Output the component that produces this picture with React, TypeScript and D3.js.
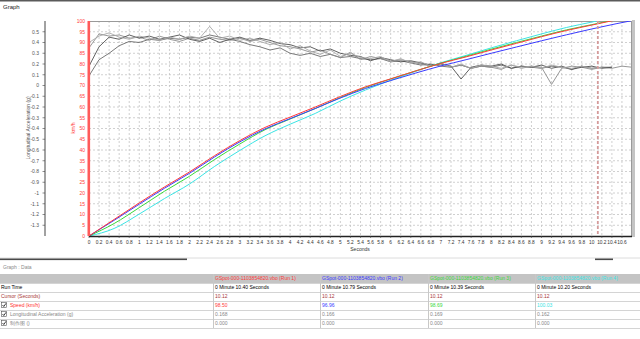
import React from 'react';
import * as d3 from 'd3';

const W = 640;
const H = 339;

// ---- data ----
const runNames = [
  'GSpot-000-1103854820.vbo (Run 1)',
  'GSpot-000-1103854820.vbo (Run 2)',
  'GSpot-000-1103854820.vbo (Run 3)',
  'GSpot-000-1103854820.vbo (Run 4)',
];
const runColors = ['#ff3a3a', '#3a3aff', '#3ad83a', '#3ae4e4'];
const accelColors = ['#6a6a6a', '#8c8c8c', '#505050', '#a8a8a8'];

const speedTimes = [0, 0.5, 1, 1.5, 2, 2.5, 3, 3.5, 4, 4.5, 5, 5.5, 6, 6.5, 7, 7.5, 8, 8.5, 9, 9.5, 10, 10.5, 11];
const speedRun1 = [0, 7.7, 15.4, 22.8, 29.8, 37.4, 44.4, 50.5, 55.3, 60.0, 64.9, 69.4, 73.1, 76.8, 80.3, 83.3, 86.5, 89.6, 92.7, 95.6, 98.1, 100.6, 103];
const speedRun2 = [0, 7.3, 14.8, 22.2, 29.2, 36.8, 43.8, 49.8, 54.6, 59.3, 64.2, 68.6, 72.3, 75.8, 79.1, 82.0, 85.0, 87.9, 90.8, 93.6, 96.3, 98.8, 101.1];
const speedRun3 = [0, 5.8, 13.2, 20.8, 27.8, 35.6, 42.8, 49.4, 54.4, 59.3, 64.4, 69.1, 73.0, 76.8, 80.4, 83.6, 86.9, 90.0, 93.0, 95.9, 98.3, 100.8, 103];
const speedRun4 = [0, 3.5, 10.2, 17.4, 24.2, 32.4, 39.8, 46.6, 52.0, 57.0, 62.8, 67.9, 72.4, 76.6, 80.6, 84.0, 87.5, 90.8, 94.0, 97.0, 99.5, 102, 104];

const accelStep = 0.2;
const accelRun1 = [0.09, 0.24, 0.30, 0.37, 0.41, 0.40, 0.43, 0.42, 0.44, 0.43, 0.45, 0.44, 0.47, 0.45, 0.43, 0.41, 0.38, 0.36, 0.33, 0.35, 0.30, 0.28, 0.30, 0.27, 0.29, 0.26, 0.27, 0.25, 0.24, 0.25, 0.22, 0.23, 0.21, 0.19, 0.20, 0.18, 0.17, 0.19, 0.16, 0.18, 0.17, 0.19, 0.16, 0.18, 0.17, 0.16, 0.18, 0.17, 0.15, 0.18, 0.16, 0.17, 0.17];
const accelRun2 = [0.35, 0.48, 0.46, 0.47, 0.44, 0.45, 0.42, 0.46, 0.43, 0.41, 0.44, 0.42, 0.45, 0.43, 0.42, 0.44, 0.41, 0.43, 0.40, 0.37, 0.36, 0.34, 0.31, 0.33, 0.29, 0.26, 0.31, 0.24, 0.27, 0.25, 0.23, 0.24, 0.22, 0.20, 0.18, 0.21, 0.17, 0.19, 0.16, 0.18, 0.17, 0.15, 0.19, 0.16, 0.18, 0.17, 0.01, 0.16, 0.18, 0.17, 0.15, 0.17, 0.16, 0.18, 0.17];
const accelRun3 = [0.18, 0.36, 0.45, 0.43, 0.47, 0.44, 0.46, 0.43, 0.45, 0.47, 0.43, 0.41, 0.44, 0.40, 0.43, 0.45, 0.42, 0.44, 0.42, 0.39, 0.38, 0.35, 0.36, 0.32, 0.34, 0.30, 0.28, 0.27, 0.23, 0.26, 0.24, 0.22, 0.23, 0.21, 0.19, 0.20, 0.18, 0.06, 0.17, 0.19, 0.18, 0.20, 0.16, 0.18, 0.17, 0.19, 0.16, 0.18, 0.15, 0.17, 0.18, 0.16, 0.17];
const accelRun4 = [0.40, 0.46, 0.49, 0.45, 0.43, 0.46, 0.44, 0.42, 0.45, 0.43, 0.46, 0.44, 0.55, 0.44, 0.46, 0.42, 0.44, 0.41, 0.38, 0.40, 0.34, 0.37, 0.32, 0.29, 0.33, 0.27, 0.30, 0.26, 0.25, 0.27, 0.22, 0.25, 0.21, 0.22, 0.18, 0.21, 0.17, 0.20, 0.16, 0.19, 0.18, 0.16, 0.19, 0.17, 0.18, 0.16, 0.19, 0.17, 0.16, 0.18, 0.16, 0.17];

const cursorTime = 10.12;
const xTickLabels = d3.range(54).map((i) => String(+(i * 0.2).toFixed(1)));
const speedTicks = d3.range(0, 101, 5);
const accelTickLabels = ['0.5', '0.4', '0.3', '0.2', '0.1', '0', '-0.1', '-0.2', '-0.3', '-0.4', '-0.5', '-0.6', '-0.7', '-0.8', '-0.9', '-1', '-1.1', '-1.2', '-1.3'];

const rowLabels = ['Run Time', 'Cursor (Seconds)', 'Speed (km/h)', 'Longitudinal Acceleration (g)', '制作图 ()'];
const runTimes = ['0 Minute 10.40 Seconds', '0 Minute 10.79 Seconds', '0 Minute 10.39 Seconds', '0 Minute 10.20 Seconds'];
const cursorValues = ['10.12', '10.12', '10.12', '10.12'];
const speedValues = ['98.50', '96.96', '98.69', '100.03'];
const accelValues = ['0.168', '0.166', '0.169', '0.162'];
const otherValues = ['0.000', '0.000', '0.000', '0.000'];

// ---- layout ----
const PX0 = 89, PX1 = 631, PY0 = 21, PY1 = 236;
const FONT = 'Liberation Sans, Arial, sans-serif';

export default function App() {
  const x = d3.scaleLinear().domain([0, 10.78]).range([PX0, PX1]);
  const ySpeed = d3.scaleLinear().domain([0, 100]).range([PY1, PY0]);
  const yAcc = d3.scaleLinear().domain([-1.4, 0.6]).range([PY1, PY0]);

  const speedSeries = [speedRun1, speedRun2, speedRun3, speedRun4];
  const accelSeries = [accelRun1, accelRun2, accelRun3, accelRun4];

  const speedLine = d3
    .line<number>()
    .x((_, i) => x(speedTimes[i]))
    .y((d) => ySpeed(d))
    .curve(d3.curveMonotoneX);
  const accLine = d3
    .line<number>()
    .x((_, i) => x(i * accelStep))
    .y((d) => yAcc(d));

  const xTickVals = xTickLabels.map((s) => +s);

  const colX = [0, 213, 320, 428, 535, 640];
  const rowY = [274, 283, 292, 301, 310, 319, 328];
  const valueRows = [runTimes, cursorValues, speedValues, accelValues, otherValues];
  const labelColors = ['#000', '#a83838', '#ff3030', '#888', '#888'];

  return (
    <svg width={W} height={H} style={{ position: 'absolute', left: 0, top: 0, background: '#fff' }} fontFamily={FONT}>
      <defs>
        <clipPath id="plotclip">
          <rect x={PX0} y={PY0} width={PX1 - PX0} height={PY1 - PY0} />
        </clipPath>
      </defs>
      <rect x={0} y={0} width={W} height={H} fill="#fff" />
      <rect x={0} y={0} width={W} height={1.5} fill="#5a5a5a" />
      <text x={3} y={9} fontSize={6} fill="#222">Graph</text>

      {/* grid */}
      {speedTicks.filter((t) => t > 0 && t < 100).map((t) => (
        <line key={'h' + t} x1={PX0} x2={PX1} y1={ySpeed(t)} y2={ySpeed(t)} stroke="#c4c4c4" strokeWidth={0.8} strokeDasharray="2,2" />
      ))}
      {xTickVals.filter((t) => t > 0).map((t) => (
        <line key={'v' + t} x1={x(t)} x2={x(t)} y1={PY0} y2={PY1} stroke="#c4c4c4" strokeWidth={0.8} strokeDasharray="2,2" />
      ))}
      <line x1={PX0} x2={PX1} y1={PY0 + 0.5} y2={PY0 + 0.5} stroke="#9a9a9a" strokeWidth={1} />
      <line x1={PX1 + 0.5} x2={PX1 + 0.5} y1={PY0} y2={PY1} stroke="#9a9a9a" strokeWidth={1} />
      <rect x={PX1 + 1} y={PY0 - 1} width={3} height={PY1 - PY0 + 2} fill="#c4c4c4" />

      {/* lines */}
      <g clipPath="url(#plotclip)">
        {accelSeries.map((s, i) => (
          <path key={'a' + i} d={accLine(s) || ''} fill="none" stroke={accelColors[i]} strokeWidth={0.9} />
        ))}
        {[3, 2, 1, 0].map((i) => (
          <path key={'s' + i} d={speedLine(speedSeries[i]) || ''} fill="none" stroke={runColors[i]} strokeWidth={1} />
        ))}
      </g>

      {/* cursor */}
      <line x1={x(cursorTime)} x2={x(cursorTime)} y1={PY0} y2={PY1} stroke="#d49a9a" strokeWidth={1.8} strokeDasharray="3,2" />

      {/* x axis */}
      <line x1={PX0} x2={PX1 + 1} y1={PY1 + 0.5} y2={PY1 + 0.5} stroke="#222" strokeWidth={1.5} />
      {xTickVals.map((t, i) => (
        <g key={'xt' + i}>
          <line x1={x(t)} x2={x(t)} y1={PY1} y2={PY1 + 2} stroke="#444" strokeWidth={0.6} />
          <text x={x(t)} y={PY1 + 7.5} fontSize={4.8} textAnchor="middle" fill="#333">{xTickLabels[i]}</text>
        </g>
      ))}
      <text x={(PX0 + PX1) / 2} y={251} fontSize={5} textAnchor="middle" fill="#333">Seconds</text>

      {/* speed axis */}
      <rect x={PX0 - 1.5} y={PY0} width={2.6} height={PY1 - PY0} fill="#ff5a5a" />
      {speedTicks.map((t) => (
        <text key={'st' + t} x={PX0 - 4} y={ySpeed(t) + 1.8} fontSize={5} textAnchor="end" fill="#ff3a3a">{t}</text>
      ))}
      <text transform={`translate(75,128) rotate(-90)`} fontSize={5} textAnchor="middle" fill="#ff3a3a">km/h</text>

      {/* accel axis */}
      <line x1={45} x2={45} y1={PY0} y2={PY1} stroke="#444" strokeWidth={1} />
      {accelTickLabels.map((l) => (
        <g key={'at' + l}>
          <line x1={42.5} x2={45} y1={yAcc(+l)} y2={yAcc(+l)} stroke="#444" strokeWidth={0.6} />
          <text x={39} y={yAcc(+l) + 1.8} fontSize={5} textAnchor="end" fill="#555">{l}</text>
        </g>
      ))}
      <text transform={`translate(29.5,128) rotate(-90)`} fontSize={5} textAnchor="middle" fill="#555">Longitudinal Acceleration (g)</text>

      {/* bottom panel */}
      <line x1={0} x2={W} y1={258} y2={258} stroke="#dcdcdc" strokeWidth={1} />
      <rect x={0} y={258.5} width={187} height={1.6} fill="#4a4a4a" />
      <rect x={595} y={258.5} width={18} height={1.6} fill="#4a4a4a" />
      <text x={3} y={268.5} fontSize={5} fill="#8a8a8a">Graph : Data</text>

      {/* table */}
      <rect x={0} y={rowY[0]} width={W} height={rowY[1] - rowY[0]} fill="#c4c4c4" />
      {runNames.map((n, i) => (
        <text key={'hn' + i} x={colX[i + 1] + 2} y={rowY[0] + 6.3} fontSize={5} fill={runColors[i]}>{n}</text>
      ))}
      {rowY.slice(1).map((y, i) => (
        <line key={'rl' + i} x1={0} x2={W} y1={y + 0.5} y2={y + 0.5} stroke="#d4d4d4" strokeWidth={1} />
      ))}
      {colX.slice(1, 5).map((cx, i) => (
        <line key={'cl' + i} x1={cx + 0.5} x2={cx + 0.5} y1={rowY[0]} y2={rowY[6]} stroke="#c8c8c8" strokeWidth={1} />
      ))}
      {rowLabels.map((l, r) => {
        const cb = r >= 2;
        const y = rowY[r + 1];
        return (
          <g key={'row' + r}>
            {cb && (
              <g>
                <rect x={1.5} y={y + 1.5} width={5} height={5} fill="#fff" stroke="#555" strokeWidth={0.6} />
                <path d={`M${2.5},${y + 4} L${3.8},${y + 5.5} L${6},${y + 2.3}`} fill="none" stroke="#111" strokeWidth={0.8} />
              </g>
            )}
            <text x={cb ? 10 : 1} y={y + 6.2} fontSize={5} fill={labelColors[r]}>{l}</text>
            {valueRows[r].map((v, c) => (
              <text key={'v' + c} x={colX[c + 1] + 2} y={y + 6.2} fontSize={5}
                fill={r === 0 ? '#000' : r === 1 ? '#a83838' : r === 2 ? runColors[c] : '#888'}>{v}</text>
            ))}
          </g>
        );
      })}
    </svg>
  );
}
